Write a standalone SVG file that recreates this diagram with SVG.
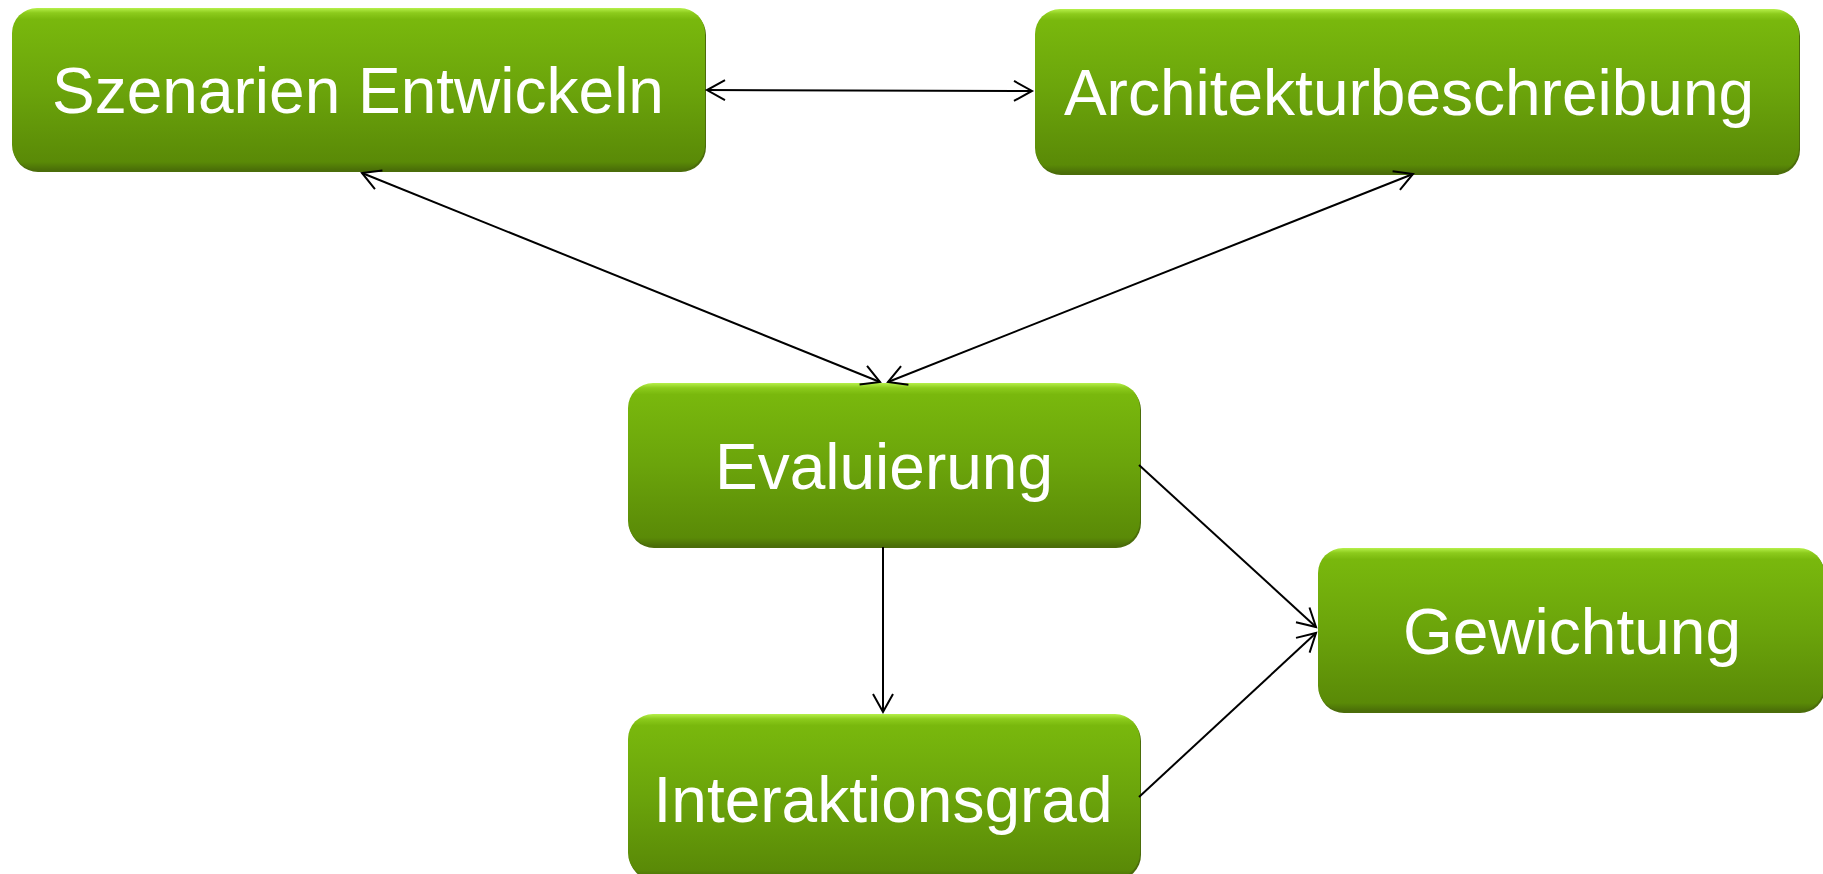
<svg xmlns="http://www.w3.org/2000/svg" width="1823" height="874" viewBox="0 0 1823 874">
<defs>
<linearGradient id="g" x1="0" y1="0" x2="0" y2="1">
<stop offset="0" stop-color="#b6f04a"/>
<stop offset="0.03" stop-color="#8ccb1c"/>
<stop offset="0.07" stop-color="#79b80d"/>
<stop offset="0.5" stop-color="#6ba40b"/>
<stop offset="0.95" stop-color="#5a8a07"/>
<stop offset="1" stop-color="#4a6e08"/>
</linearGradient>
<marker id="a" viewBox="-20 -12 22 24" markerUnits="userSpaceOnUse" markerWidth="22" markerHeight="24" refX="0" refY="0" orient="auto-start-reverse" overflow="visible">
<path d="M-18,-10 L0,0 L-18,10" fill="none" stroke="#000" stroke-width="2"/>
</marker>
</defs>
<style>
.box{fill:url(#g);}
.sh{fill:#4b6d0a;}
.t{font-family:"Liberation Sans",Arial,sans-serif;font-size:64px;fill:#fff;text-anchor:middle;}
.c line{stroke:#000;stroke-width:2;fill:none;}
</style>
<rect width="1823" height="874" fill="#fff"/>
<g id="szenarien">
<rect class="sh" x="13" y="10" width="693" height="162" rx="25"/>
<rect class="box" x="12" y="8" width="693" height="162" rx="25"/>
<text class="t" x="358" y="113">Szenarien Entwickeln</text>
</g>
<g id="architektur">
<rect class="sh" x="1036" y="11" width="764" height="164" rx="25"/>
<rect class="box" x="1035" y="9" width="764" height="164" rx="25"/>
<text class="t" x="1409" y="115">Architekturbeschreibung</text>
</g>
<g id="evaluierung">
<rect class="sh" x="629" y="385" width="512" height="163" rx="25"/>
<rect class="box" x="628" y="383" width="512" height="163" rx="25"/>
<text class="t" x="884" y="489">Evaluierung</text>
</g>
<g id="gewichtung">
<rect class="sh" x="1319" y="550" width="506" height="163" rx="25"/>
<rect class="box" x="1318" y="548" width="506" height="163" rx="25"/>
<text class="t" x="1572" y="654">Gewichtung</text>
</g>
<g id="interaktionsgrad">
<rect class="sh" x="629" y="716" width="512" height="164" rx="25"/>
<rect class="box" x="628" y="714" width="512" height="164" rx="25"/>
<text class="t" x="883" y="822">Interaktionsgrad</text>
</g>
<g id="connectors" class="c">
<line x1="707" y1="90" x2="1032" y2="91" marker-start="url(#a)" marker-end="url(#a)"/>
<line x1="362" y1="173" x2="880" y2="382" marker-start="url(#a)" marker-end="url(#a)"/>
<line x1="1413" y1="174" x2="888" y2="382" marker-start="url(#a)" marker-end="url(#a)"/>
<line x1="1139" y1="465" x2="1316" y2="627" marker-end="url(#a)"/>
<line x1="883" y1="547" x2="883" y2="712" marker-end="url(#a)"/>
<line x1="1139" y1="797" x2="1316" y2="633" marker-end="url(#a)"/>
</g>
</svg>
